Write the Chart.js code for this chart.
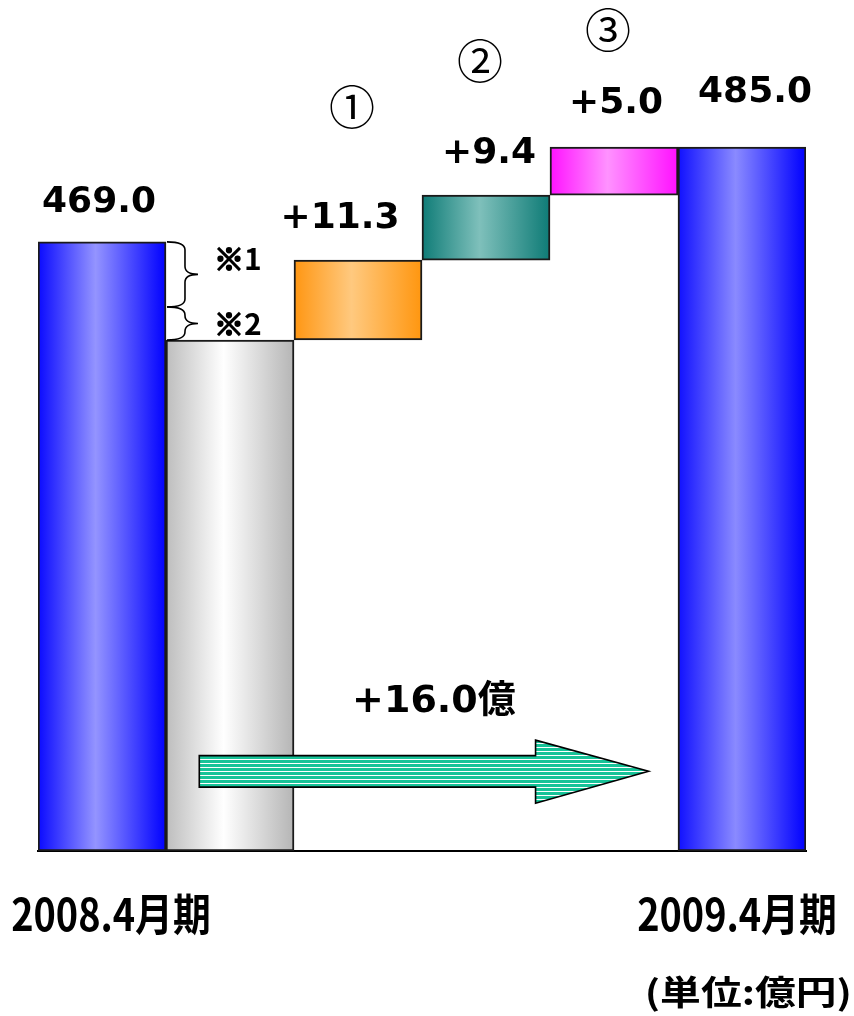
<!DOCTYPE html>
<html>
<head>
    <meta charset="UTF-8">
    <title>2008.4月期 → 2009.4月期</title>
    <style>
        body {
            margin: 0;
            padding: 0;
            background-color: #fff;
        }
        canvas {
            display: block;
        }
    </style>
</head>
<body>
    <canvas id="myChart" width="854" height="1016"></canvas>

    <script src="https://cdn.jsdelivr.net/npm/chart.js"></script>
    <script>
        // Datos
        var categories = ['2008.4月期', '', '', '', '', '2009.4月期'];
        var barLow = [366, 366, 452.4, 465.9, 476.9, 366];
        var barHigh = [469, 452.4, 465.9, 476.9, 485, 485];
        var valueLabels = ['469.0', '', '+11.3', '+9.4', '+5.0', '485.0'];
        var stepMarks = ['', '', '①', '②', '③', ''];
        var braceRanges = [[469, 458], [458, 452.4]];
        var braceLabels = ['※1', '※2'];
        var arrowFrom = 0.76, arrowTo = 4.27, arrowLevel = 379.5;
        var totalChange = '+16.0億';
        var unitText = '(単位:億円)';

        // Colores: [borde, centro, borde]
        var barColors = [
            ['#0a0aff', '#9494ff', '#0000ff'],
            ['#bdbdbd', '#ffffff', '#b5b5b5'],
            ['#ff9612', '#ffc97f', '#ff960f'],
            ['#0f7c77', '#7fc0bb', '#0e7b76'],
            ['#ff12ff', '#ff92ff', '#ff10ff'],
            ['#1010ff', '#8a8aff', '#0000ff']
        ];

        // Ajustes de posición de los textos (px)
        var labelShift = { 0: -3, 2: -18, 3: 3, 4: 2, 5: 13 };
        var labelGap = { 0: 30, 2: 32, 3: 32, 4: 34, 5: 45 };
        var markLift = { 2: 122, 3: 103, 4: 84 };

        var latin = '"DejaVu Sans", "Noto Sans CJK JP", sans-serif';
        var cjk = '"Noto Sans CJK JP", sans-serif';

        function barGradient(context) {
            var chart = context.chart;
            var i = context.dataIndex;
            var c = barColors[i] || barColors[0];
            if (!chart.chartArea || !chart.scales.x) return c[1];
            var xs = chart.scales.x;
            var cx = xs.getPixelForValue(i);
            var half = xs.width / categories.length / 2;
            var g = chart.ctx.createLinearGradient(cx - half, 0, cx + half, 0);
            g.addColorStop(0, c[0]);
            g.addColorStop(0.45, c[1]);
            g.addColorStop(1, c[2]);
            return g;
        }

        function drawBrace(ctx, x, y1, y2, w) {
            var ym = (y1 + y2) / 2;
            var r = Math.min(8, (y2 - y1) / 4);
            var xm = x + w * 0.58;
            ctx.beginPath();
            ctx.moveTo(x, y1);
            ctx.quadraticCurveTo(xm, y1, xm, y1 + r);
            ctx.lineTo(xm, ym - r);
            ctx.quadraticCurveTo(xm, ym, x + w, ym);
            ctx.quadraticCurveTo(xm, ym, xm, ym + r);
            ctx.lineTo(xm, y2 - r);
            ctx.quadraticCurveTo(xm, y2, x, y2);
            ctx.stroke();
        }

        function arrowPath(ctx, x1, x2, y) {
            var hb = x2 - 113;
            ctx.beginPath();
            ctx.moveTo(x1, y - 15.5);
            ctx.lineTo(hb, y - 15.5);
            ctx.lineTo(hb, y - 31);
            ctx.lineTo(x2, y);
            ctx.lineTo(hb, y + 32);
            ctx.lineTo(hb, y + 16);
            ctx.lineTo(x1, y + 16);
            ctx.closePath();
        }

        function scaledText(ctx, text, x, y, font, sx, sy, align) {
            ctx.save();
            ctx.font = font;
            ctx.textAlign = align;
            ctx.textBaseline = 'alphabetic';
            ctx.translate(x, y);
            ctx.scale(sx, sy);
            ctx.fillText(text, 0, 0);
            ctx.restore();
        }

        var annotations = {
            id: 'annotations',
            afterDraw: function(chart) {
                var ctx = chart.ctx;
                var xs = chart.scales.x;
                var ys = chart.scales.y;
                var half = xs.width / categories.length / 2;
                ctx.save();
                ctx.fillStyle = '#000';

                // Valores sobre las barras
                valueLabels.forEach(function(t, i) {
                    if (!t) return;
                    var cx = xs.getPixelForValue(i);
                    var base = ys.getPixelForValue(barHigh[i]) - (labelGap[i] || 32);
                    ctx.font = 'bold 36px ' + latin;
                    ctx.textAlign = 'center';
                    ctx.textBaseline = 'alphabetic';
                    ctx.fillText(t, cx + (labelShift[i] || 0), base);
                    if (stepMarks[i]) {
                        ctx.font = '46px ' + cjk;
                        ctx.textBaseline = 'middle';
                        ctx.fillText(stepMarks[i], cx - 6, base - (markLift[i] || 100));
                    }
                });

                // Llaves ※1 ※2
                var bx = xs.getPixelForValue(0) + half + 1;
                ctx.strokeStyle = '#000';
                ctx.lineWidth = 1.6;
                braceRanges.forEach(function(r, k) {
                    var y1 = ys.getPixelForValue(r[0]);
                    var y2 = ys.getPixelForValue(r[1]);
                    ctx.lineWidth = 1.6;
                    drawBrace(ctx, bx, y1, y2, 31);
                    ctx.font = 'bold 30px ' + cjk;
                    ctx.textAlign = 'left';
                    ctx.textBaseline = 'middle';
                    var ty = (y1 + y2) / 2 - (k === 0 ? 16 : 0);
                    ctx.fillText(braceLabels[k], bx + 47, ty);
                    ctx.lineWidth = 1.8;
                    ctx.strokeText(braceLabels[k].charAt(0), bx + 47, ty);
                });

                // Flecha
                var ax1 = xs.getPixelForValue(arrowFrom);
                var ax2 = xs.getPixelForValue(arrowTo);
                var ay = ys.getPixelForValue(arrowLevel);
                arrowPath(ctx, ax1, ax2, ay);
                ctx.fillStyle = '#17c398';
                ctx.fill();
                ctx.save();
                ctx.clip();
                ctx.strokeStyle = '#ffffff';
                ctx.lineWidth = 1;
                for (var yy = ay - 32; yy < ay + 34; yy += 4) {
                    ctx.beginPath();
                    ctx.moveTo(ax1, Math.round(yy) + 0.5);
                    ctx.lineTo(ax2, Math.round(yy) + 0.5);
                    ctx.stroke();
                }
                ctx.restore();
                arrowPath(ctx, ax1, ax2, ay);
                ctx.strokeStyle = '#000';
                ctx.lineWidth = 1.6;
                ctx.stroke();

                ctx.fillStyle = '#000';
                ctx.font = 'bold 38px ' + latin;
                ctx.textAlign = 'center';
                ctx.textBaseline = 'alphabetic';
                ctx.fillText(totalChange, (ax1 + ax2) / 2 + 10, ay - 59);

                // Etiquetas del eje X
                var bottom = chart.chartArea.bottom;
                categories.forEach(function(t, i) {
                    if (!t) return;
                    var cx = xs.getPixelForValue(i);
                    scaledText(ctx, t, cx + (i === 0 ? 9 : -5), bottom + 80, 'bold 44px ' + cjk, 0.86, 1, 'center');
                });

                // Unidad
                scaledText(ctx, unitText, chart.width - 2, chart.height - 11, 'bold 40px ' + cjk, 1.02, 0.84, 'right');
                ctx.restore();
            }
        };

        var ctx = document.getElementById('myChart').getContext('2d');
        var chart = new Chart(ctx, {
            type: 'bar',
            data: {
                labels: categories,
                datasets: [{
                    data: barLow.map(function(v, i) { return [v, barHigh[i]]; }),
                    backgroundColor: barGradient,
                    borderColor: '#1a1a1a',
                    borderWidth: 2,
                    borderSkipped: false,
                    barPercentage: 1,
                    categoryPercentage: 1
                }]
            },
            options: {
                responsive: false,
                animation: false,
                layout: {
                    padding: { left: 38, right: 48, top: 23, bottom: 157 }
                },
                plugins: {
                    legend: { display: false },
                    tooltip: { enabled: false }
                },
                scales: {
                    x: {
                        grid: { display: false },
                        ticks: { display: false },
                        border: { display: true, color: '#000', width: 2 }
                    },
                    y: {
                        display: false,
                        min: 366,
                        max: 506
                    }
                }
            },
            plugins: [annotations]
        });
    </script>
</body>
</html>
